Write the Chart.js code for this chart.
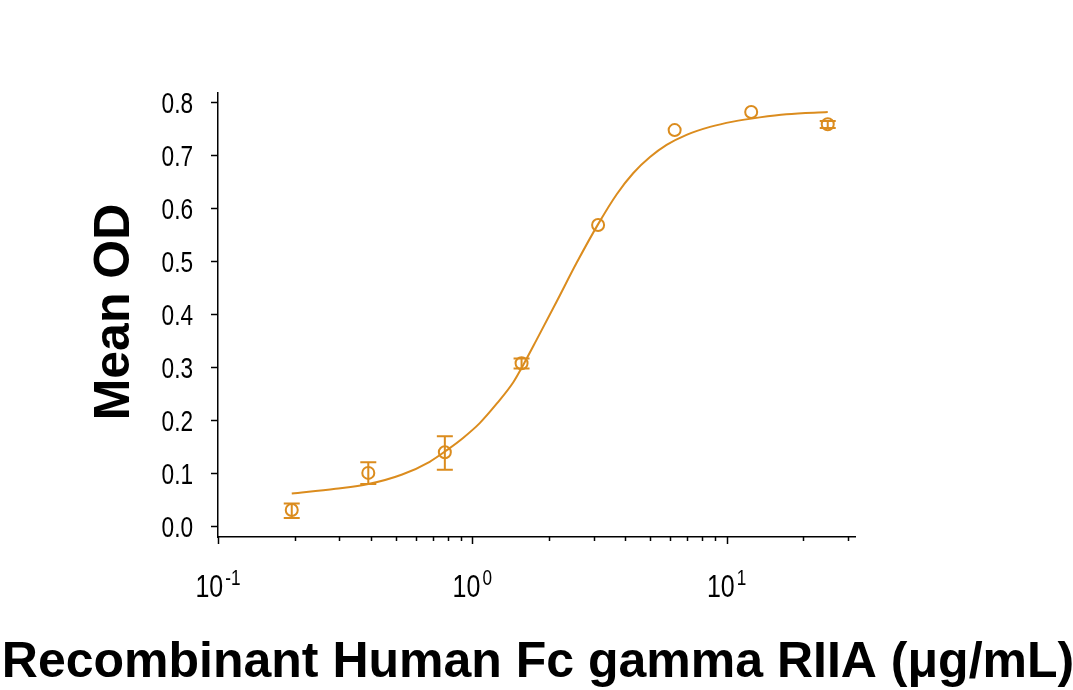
<!DOCTYPE html>
<html>
<head>
<meta charset="utf-8">
<script src="https://cdn.jsdelivr.net/npm/chart.js@4.4.1/dist/chart.umd.min.js"></script>
<style>
  html, body { margin: 0; padding: 0; background: #fff; }
  #wrap { width: 1073px; height: 690px; }
</style>
</head>
<body>
<div id="wrap"><canvas id="chart" width="1073" height="690"></canvas></div>
<script>
// measured points (ug/mL vs mean OD) with error bar ends
const concentrations = [0.195, 0.39, 0.78, 1.5625, 3.125, 6.25, 12.5, 25];
const meanOD = [0.031, 0.101, 0.140, 0.308, 0.569, 0.748, 0.782, 0.759];
const errLow = [0.016, 0.080, 0.107, 0.298, 0.569, 0.748, 0.782, 0.752];
const errHigh = [0.043, 0.121, 0.170, 0.317, 0.569, 0.748, 0.782, 0.765];

// fitted curve
const fitConc = [0.195, 0.29, 0.39, 0.53, 0.68, 0.80, 0.92, 1.07, 1.25, 1.45, 1.60, 1.79, 2.15, 2.57, 3.13, 3.70, 4.30, 5.00, 5.81, 6.96, 8.61, 10.6, 13.5, 17.2, 25];
const fitOD = [0.062, 0.071, 0.080, 0.098, 0.122, 0.145, 0.167, 0.195, 0.232, 0.272, 0.308, 0.352, 0.425, 0.497, 0.571, 0.627, 0.667, 0.697, 0.720, 0.739, 0.754, 0.764, 0.772, 0.778, 0.782];

const yTicks = [0, 0.1, 0.2, 0.3, 0.4, 0.5, 0.6, 0.7, 0.8];
const xTicks = [0.1, 0.2, 0.3, 0.4, 0.5, 0.6, 0.7, 0.8, 0.9, 1, 2, 3, 4, 5, 6, 7, 8, 9, 10, 20, 30];
const xLabelPowers = [-1, 0, 1];

const xTitle = 'Recombinant Human Fc gamma RIIA (\u03bcg/mL)';
const yTitle = 'Mean OD';

const orange = '#DB8C1E';
const sans = "'Liberation Sans', Arial, sans-serif";
const squeeze = 0.78; // tick labels in the original use a condensed face

const errorBars = {
    id: 'errorBars',
    afterDatasetsDraw(chart) {
        const { ctx, scales: { x, y } } = chart;
        ctx.save();
        ctx.strokeStyle = orange;
        ctx.lineWidth = 2;
        concentrations.forEach((c, i) => {
            if (errHigh[i] - errLow[i] <= 0) return;
            const px = x.getPixelForValue(c);
            const top = y.getPixelForValue(errHigh[i]);
            const bot = y.getPixelForValue(errLow[i]);
            ctx.beginPath();
            ctx.moveTo(px, top); ctx.lineTo(px, bot);
            ctx.moveTo(px - 8, top); ctx.lineTo(px + 8, top);
            ctx.moveTo(px - 8, bot); ctx.lineTo(px + 8, bot);
            ctx.stroke();
        });
        ctx.restore();
    }
};

// draws condensed text with its right edge / centre at px
function squeezedText(ctx, text, px, baseline, align) {
    const w = ctx.measureText(text).width * squeeze;
    const left = align === 'right' ? px - w : align === 'center' ? px - w / 2 : px;
    ctx.save();
    ctx.translate(left, baseline);
    ctx.scale(squeeze, 1);
    ctx.textAlign = 'left';
    ctx.fillText(text, 0, 0);
    ctx.restore();
    return w;
}

const axisDecor = {
    id: 'axisDecor',
    afterDraw(chart) {
        const { ctx, scales: { x, y }, chartArea } = chart;
        ctx.save();
        ctx.strokeStyle = '#000';
        ctx.fillStyle = '#000';
        ctx.lineWidth = 1.5;
        ctx.textBaseline = 'alphabetic';

        // log ticks, longer at each decade
        xTicks.forEach(v => {
            const px = Math.round(x.getPixelForValue(v)) + 0.5;
            const major = Math.abs(Math.log10(v) - Math.round(Math.log10(v))) < 1e-9;
            ctx.beginPath();
            ctx.moveTo(px, chartArea.bottom);
            ctx.lineTo(px, chartArea.bottom + (major ? 7 : 4));
            ctx.stroke();
        });

        // y labels
        ctx.font = '29px ' + sans;
        yTicks.forEach(v => {
            const py = y.getPixelForValue(v);
            squeezedText(ctx, v.toFixed(1), 193, py + 10.5, 'right');
        });

        // 10^n labels
        xLabelPowers.forEach(p => {
            const px = x.getPixelForValue(Math.pow(10, p));
            const exp = String(p);
            ctx.font = '32px ' + sans;
            const wBase = ctx.measureText('10').width * squeeze;
            ctx.font = '22px ' + sans;
            const wExp = ctx.measureText(exp).width * squeeze;
            const start = px - (wBase + wExp + 2) / 2;
            ctx.font = '32px ' + sans;
            squeezedText(ctx, '10', start, 597, 'left');
            ctx.font = '22px ' + sans;
            squeezedText(ctx, exp, start + wBase + 2, 585, 'left');
        });

        // axis titles
        ctx.font = 'bold 50px ' + sans;
        ctx.textAlign = 'center';
        ctx.fillText(xTitle, 538, 677);

        ctx.translate(129, 312);
        ctx.rotate(-Math.PI / 2);
        ctx.fillText(yTitle, 0, 0);
        ctx.restore();
    }
};

new Chart(document.getElementById('chart'), {
    data: {
        datasets: [
            {
                type: 'scatter',
                data: concentrations.map((c, i) => ({ x: c, y: meanOD[i] })),
                borderColor: orange,
                backgroundColor: 'rgba(0,0,0,0)',
                pointRadius: 6,
                pointBorderWidth: 2,
                pointHoverRadius: 6
            },
            {
                type: 'line',
                data: fitConc.map((c, i) => ({ x: c, y: fitOD[i] })),
                borderColor: orange,
                borderWidth: 2,
                pointRadius: 0,
                fill: false,
                cubicInterpolationMode: 'monotone'
            }
        ]
    },
    options: {
        responsive: false,
        animation: false,
        devicePixelRatio: 1,
        layout: { padding: { left: 0, right: 218, top: 93, bottom: 0 } },
        plugins: { legend: { display: false }, tooltip: { enabled: false } },
        scales: {
            x: {
                type: 'logarithmic',
                position: 'bottom',
                min: 0.1,
                max: 32,
                afterBuildTicks: s => { s.ticks = xTicks.map(v => ({ value: v })); },
                afterFit: s => { s.height = 690 - 537; s.paddingLeft = 0; s.paddingRight = 0; },
                ticks: { display: false },
                grid: { display: false },
                border: { display: true, color: '#000', width: 1.5 }
            },
            y: {
                type: 'linear',
                position: 'left',
                min: -0.02,
                max: 0.818,
                afterBuildTicks: s => { s.ticks = yTicks.map(v => ({ value: v })); },
                afterFit: s => { s.width = 218; s.paddingTop = 0; s.paddingBottom = 0; },
                ticks: { display: false },
                grid: { drawOnChartArea: false, drawTicks: true, tickLength: 7, tickColor: '#000', tickWidth: 1.5 },
                border: { display: true, color: '#000', width: 1.5 }
            }
        }
    },
    plugins: [errorBars, axisDecor]
});
</script>
</body>
</html>
